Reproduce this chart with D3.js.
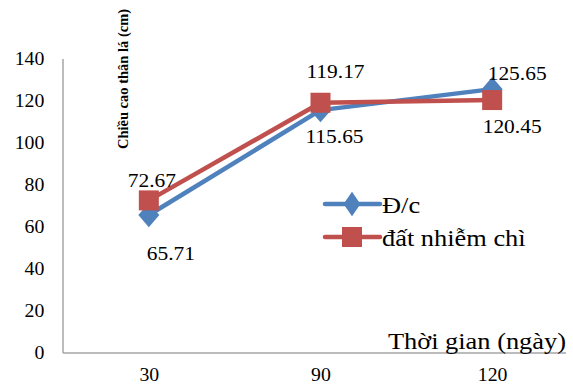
<!DOCTYPE html>
<html>
<head>
<meta charset="utf-8">
<script src="https://cdn.jsdelivr.net/npm/d3@7"></script>
<style>
  html, body { margin: 0; padding: 0; background: #fff; }
  svg { display: block; }
  svg text { font-family: "Liberation Serif", "Times New Roman", serif !important; fill: #000; }
</style>
</head>
<body>
<svg id="chart" width="573" height="387"></svg>
<script>
// Plant height over time, control vs. lead-contaminated soil
const days = ["30", "90", "120"];
const controlValues = [65.71, 115.65, 125.65];
const leadSoilValues = [72.67, 119.17, 120.45];
const yTicks = [0, 20, 40, 60, 80, 100, 120, 140];
const seriesNames = ["Đ/c", "đất nhiễm chì"];

const svg = d3.select("#chart");
const plotLeft = 63, plotRight = 566, plotBottom = 353, plotTop = 59;
const stretch = "scale(1.1,1)";   // slightly wide lettering

const x = d3.scalePoint().domain(days).range([plotLeft, 578]).padding(0.5);
const y = d3.scaleLinear().domain([0, 140]).range([plotBottom, plotTop]);

// Places a horizontally widened text at (px, py)
function label(parent, px, py, str, size, anchor) {
  const g = parent.append("g").attr("transform", `translate(${px},${py}) ${stretch}`);
  return g.append("text").attr("text-anchor", anchor || "middle")
    .attr("font-size", size).text(str);
}

// Y axis
const yAxis = svg.append("g")
  .attr("transform", `translate(${plotLeft},0)`)
  .call(d3.axisLeft(y).tickValues(yTicks).tickSize(0).tickPadding(17).tickFormat(d3.format("d")));
yAxis.select(".domain").remove();
yAxis.selectAll("text").attr("font-size", 18).attr("transform", stretch);
svg.append("line")
  .attr("x1", plotLeft).attr("x2", plotLeft).attr("y1", plotTop).attr("y2", plotBottom)
  .attr("stroke", "#a6a6a6").attr("stroke-width", 1.5);

// X axis
const xAxis = svg.append("g")
  .attr("transform", `translate(0,${plotBottom})`)
  .call(d3.axisBottom(x).tickSize(0).tickPadding(18));
xAxis.select(".domain").remove();
xAxis.selectAll("text").attr("font-size", 18).attr("dy", "0.55em").attr("transform", stretch);
svg.append("line")
  .attr("x1", plotLeft).attr("x2", plotRight).attr("y1", plotBottom).attr("y2", plotBottom)
  .attr("stroke", "#a6a6a6").attr("stroke-width", 1.5);

// Axis titles
svg.append("text")
  .attr("transform", `translate(128,79) rotate(-90)`)
  .attr("text-anchor", "middle")
  .attr("font-size", 14.5).attr("font-weight", "bold")
  .text("Chiều cao thân lá (cm)");

label(svg, 566, 349, "Thời gian (ngày)", 24, "end");

const colors = ["#4f81bd", "#c0504d"];
const series = [controlValues, leadSoilValues];
const line = d3.line().x((d, i) => x(days[i])).y(d => y(d));

// Lines
series.forEach((vals, s) => {
  svg.append("path")
    .datum(vals)
    .attr("fill", "none")
    .attr("stroke", colors[s])
    .attr("stroke-width", 4.5)
    .attr("stroke-linejoin", "round")
    .attr("d", line);
});

// Markers
const diamond = d3.symbol().type(d3.symbolDiamond).size(170);
function drawDiamond(g, px, py, wide) {
  g.append("path").attr("d", diamond()).attr("transform", `translate(${px},${py}) scale(${wide},1)`)
    .attr("fill", colors[0]);
}
function drawSquare(g, px, py) {
  g.append("rect").attr("x", px - 10).attr("y", py - 10).attr("width", 20).attr("height", 20)
    .attr("fill", colors[1]);
}
controlValues.forEach((v, i) => drawDiamond(svg, x(days[i]), y(v), 1.5));
leadSoilValues.forEach((v, i) => drawSquare(svg, x(days[i]), y(v)));

// Data labels (offset from each point: dx, baseline dy)
const labelFont = 19.5;
const controlOffsets = [[22, 45], [14, 33], [25, -9]];
const leadOffsets = [[3, -13], [15, -25], [20, 33]];
function drawLabels(vals, offsets) {
  vals.forEach((v, i) => {
    label(svg, x(days[i]) + offsets[i][0], y(v) + offsets[i][1], v.toFixed(2), labelFont);
  });
}
drawLabels(controlValues, controlOffsets);
drawLabels(leadSoilValues, leadOffsets);

// Legend
const legend = svg.append("g");
[0, 1].forEach(s => {
  const ly = 204 + s * 33;
  legend.append("line").attr("x1", 325).attr("x2", 380).attr("y1", ly).attr("y2", ly)
    .attr("stroke", colors[s]).attr("stroke-width", 4.5).attr("stroke-linecap", "round");
  if (s === 0) drawDiamond(legend, 352, ly, 1.2); else drawSquare(legend, 352, ly);
  label(legend, 382, ly + 9, seriesNames[s], 24, "start");
});
</script>
</body>
</html>
